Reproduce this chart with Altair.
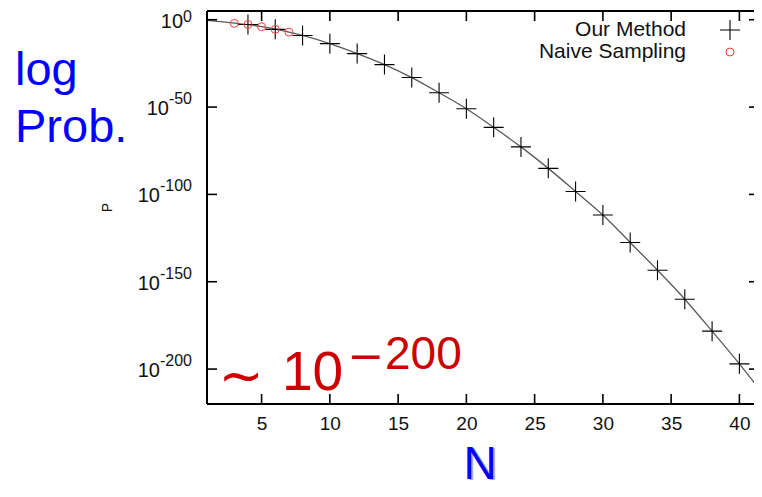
import altair as alt
import pandas as pd

# ---- data ----
N_line = [1, 2, 3, 4, 5, 6, 7, 8, 10, 12, 14, 16, 18, 20, 22, 24, 26, 28, 30, 32, 34, 36, 38, 40, 42]
logP_line = [-0.4, -1.1, -1.9, -2.8, -4.0, -5.4, -7.1, -9.0, -13.7, -19.4, -25.7, -33.1, -41.8, -51.0,
             -61.6, -72.8, -85.1, -98.3, -111.8, -127.5, -143.4, -160.0, -178.3, -197.0, -217.0]

N_our = [4, 6, 8, 10, 12, 14, 16, 18, 20, 22, 24, 26, 28, 30, 32, 34, 36, 38, 40]
logP_our = [-2.7, -5.5, -9.0, -13.7, -19.4, -25.7, -33.1, -41.8, -51.0, -61.6, -72.8, -85.1,
            -98.3, -111.8, -127.5, -143.4, -160.0, -178.3, -197.0]

N_naive = [3, 4, 5, 6, 7]
logP_naive = [-2.1, -2.7, -4.0, -5.5, -7.1]

xtick_vals = [5, 10, 15, 20, 25, 30, 35, 40]
ytick_vals = [0, -50, -100, -150, -200]
ytick_base = ["10", "10", "10", "10", "10"]
ytick_exp = ["0", "-50", "-100", "-150", "-200"]

legend_labels = ["Our Method", "Naive Sampling"]

# ---- layout ----
W, H = 547, 393
SVG_H = 481
FONT = "Liberation Sans"
CROSS = "M-1,0L1,0M0,-1L0,1"
BASE_FS, EXP_FS = 20, 16

df_line = pd.DataFrame({"N": N_line, "logP": logP_line})
df_our = pd.DataFrame({"N": N_our, "logP": logP_our})
df_naive = pd.DataFrame({"N": N_naive, "logP": logP_naive})
df_xt = pd.DataFrame({"N": xtick_vals})
df_yt = pd.DataFrame({"logP": ytick_vals})
one = pd.DataFrame({"k": [0]})

xscale = alt.Scale(domain=[1, 41.07], nice=False, zero=False)
yscale = alt.Scale(domain=[-220, 5], nice=False, zero=False)

xaxis = alt.Axis(values=xtick_vals, ticks=False, domain=False, grid=False, title=None,
                 labelFontSize=19, labelPadding=10, labelColor="#111", labelFont=FONT)

X = alt.X("N:Q", scale=xscale, axis=xaxis)
Y = alt.Y("logP:Q", scale=yscale, axis=None)

line = alt.Chart(df_line).mark_line(color="#5a5a5a", strokeWidth=1.3, interpolate="monotone",
                                    clip=True).encode(x=X, y=Y)
crosses = alt.Chart(df_our).mark_point(shape=CROSS, size=400, color="#000000", strokeWidth=1.1,
                                       filled=False, opacity=1).encode(x=X, y=Y)
circles = alt.Chart(df_naive).mark_point(shape="circle", size=64, color="#ff3a3a", strokeWidth=1,
                                         filled=False, opacity=1).encode(x=X, y=Y)

tick_style = dict(color="#000000", strokeWidth=1.6)
xt_bottom = alt.Chart(df_xt).mark_rule(**tick_style).encode(x=X, y=alt.value(H), y2=alt.value(H - 10))
xt_top = alt.Chart(df_xt).mark_rule(**tick_style).encode(x=X, y=alt.value(0), y2=alt.value(10))
yt_left = alt.Chart(df_yt).mark_rule(**tick_style).encode(y=Y, x=alt.value(0), x2=alt.value(10))
yt_right = alt.Chart(df_yt).mark_rule(**tick_style).encode(y=Y, x=alt.value(W - 5), x2=alt.value(W))

border_style = dict(color="#000000", strokeWidth=2)
b_left = alt.Chart(one).mark_rule(**border_style).encode(x=alt.value(0), y=alt.value(0), y2=alt.value(H))
b_top = alt.Chart(one).mark_rule(**border_style).encode(x=alt.value(0), x2=alt.value(W + 10), y=alt.value(0))
b_bot = alt.Chart(one).mark_rule(**border_style).encode(x=alt.value(0), x2=alt.value(W + 10), y=alt.value(H))


def char_w(s, fs):
    w = 0.0
    for c in s:
        w += 0.333 if c == "-" else 0.556
    return w * fs


# y tick labels: "10" with a raised exponent
ylabels = []
for v, b, e in zip(ytick_vals, ytick_base, ytick_exp):
    d = pd.DataFrame({"logP": [v]})
    ew = char_w(e, EXP_FS)
    raise_dy = 2 if v == 0 else -3  # keep the top exponent inside the page
    ylabels.append(alt.Chart(d).mark_text(text=e, align="right", baseline="alphabetic", dy=raise_dy,
                                          fontSize=EXP_FS, font=FONT, color="#111")
                   .encode(y=Y, x=alt.value(-15)))
    ylabels.append(alt.Chart(d).mark_text(text=b, align="right", baseline="alphabetic", dy=8,
                                          fontSize=BASE_FS, font=FONT, color="#111")
                   .encode(y=Y, x=alt.value(-15 - ew)))

# legend (gnuplot style: text then symbol)
leg1 = alt.Chart(one).mark_text(text=legend_labels[0], align="right", baseline="middle",
                                fontSize=21, font=FONT, color="#111").encode(x=alt.value(479), y=alt.value(19))
leg2 = alt.Chart(one).mark_text(text=legend_labels[1], align="right", baseline="middle",
                                fontSize=21, font=FONT, color="#111").encode(x=alt.value(479), y=alt.value(41))
leg_s1 = alt.Chart(one).mark_point(shape=CROSS, size=400, color="#000000", strokeWidth=1.1,
                                   filled=False, opacity=1).encode(x=alt.value(523), y=alt.value(19))
leg_s2 = alt.Chart(one).mark_point(shape="circle", size=64, color="#ff3a3a", strokeWidth=1,
                                   filled=False, opacity=1).encode(x=alt.value(523), y=alt.value(41))

# texts
p_title = alt.Chart(one).mark_text(text="P", angle=270, fontSize=14, font=FONT, color="#111",
                                   align="center", baseline="middle").encode(x=alt.value(-99), y=alt.value(H / 2))
log_t = alt.Chart(one).mark_text(text="log", align="left", baseline="alphabetic", fontSize=47,
                                 font=FONT, color="#0000ff").encode(x=alt.value(-192), y=alt.value(74))
prob_t = alt.Chart(one).mark_text(text="Prob.", align="left", baseline="alphabetic", fontSize=47,
                                  font=FONT, color="#0000ff").encode(x=alt.value(-192), y=alt.value(131))
n_shadow = alt.Chart(one).mark_text(text="N", align="center", baseline="alphabetic", fontSize=46,
                                    font=FONT, color="#b0b0b0").encode(x=alt.value(275), y=alt.value(469))
n_t = alt.Chart(one).mark_text(text="N", align="center", baseline="alphabetic", fontSize=46,
                               font=FONT, color="#0000ff").encode(x=alt.value(273), y=alt.value(467.5))

red = "#cc0000"
sim_t = alt.Chart(one).mark_text(text="∼", align="center", baseline="middle", fontSize=54,
                                 font="DejaVu Sans", color=red).encode(x=alt.value(34), y=alt.value(367))
ten_t = alt.Chart(one).mark_text(text="10", align="left", baseline="alphabetic", fontSize=55,
                                 font=FONT, color=red).encode(x=alt.value(75), y=alt.value(379))
minus_t = alt.Chart(one).mark_text(text="−", align="center", baseline="alphabetic", fontSize=44,
                                   font="DejaVu Sans", color=red).encode(x=alt.value(159), y=alt.value(360))
exp_t = alt.Chart(one).mark_text(text="200", align="left", baseline="alphabetic", fontSize=46,
                                 font=FONT, color=red).encode(x=alt.value(178), y=alt.value(358))

chart = alt.layer(
    line, crosses, circles,
    xt_bottom, xt_top, yt_left, yt_right,
    b_left, b_top, b_bot,
    *ylabels,
    leg1, leg2, leg_s1, leg_s2,
    p_title, log_t, prob_t, n_shadow, n_t,
    sim_t, ten_t, minus_t, exp_t,
).properties(
    width=W, height=H,
    autosize=alt.AutoSizeParams(type="none"),
    padding={"left": 199, "top": 3, "right": 0, "bottom": SVG_H - 3 - H},
    background="white",
).configure_view(stroke=None)

chart.save("out.html", embed_options={"renderer": "svg", "actions": False})
